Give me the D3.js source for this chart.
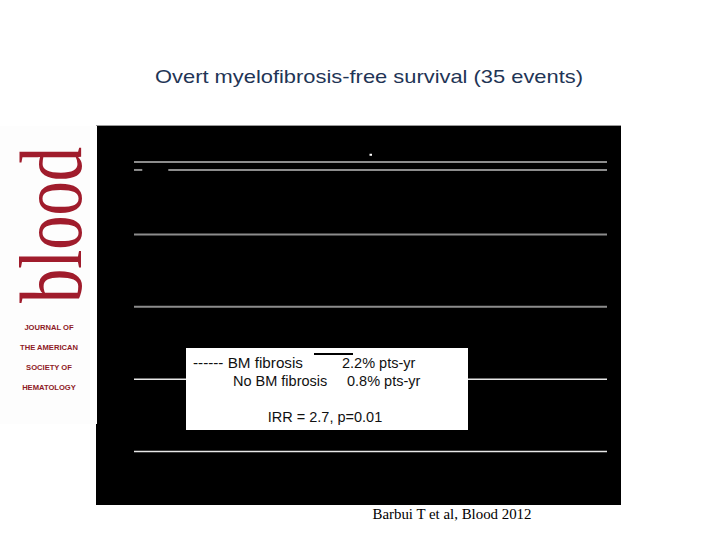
<!DOCTYPE html>
<html>
<head>
<meta charset="utf-8">
<script src="https://cdn.jsdelivr.net/npm/d3@7"></script>
<style>
  html, body { margin: 0; padding: 0; background: #ffffff; }
  svg { display: block; }
</style>
</head>
<body>
<svg id="chart" width="720" height="540"></svg>
<script>
// ---- data ----
const titleText = "Overt myelofibrosis-free survival (35 events)";
const citationText = "Barbui T et al, Blood 2012";
const gridValues = [0.2, 0.4, 0.6, 0.8, 1.0];          // survival proportion gridlines
const xDomain = [0, 20];                                 // follow-up years
const curveLevel = 0.978;                                // flat step seen just under 1.0
const curveSegStart = [0, 1.45];
const curveSegEnd = [0.35, 20];
const censorX = [10];                                    // lone visible mark above the curves
const censorY = [1.02];
const legendLabels = ["------ BM fibrosis", "No BM fibrosis"];
const legendRates = ["2.2% pts-yr", "0.8% pts-yr"];
const statText = "IRR = 2.7, p=0.01";
const logoWord = "blood";
const logoLines = ["JOURNAL OF", "THE AMERICAN", "SOCIETY OF", "HEMATOLOGY"];

const svg = d3.select("#chart");

// title
svg.append("text")
  .attr("x", 155).attr("y", 83)
  .attr("font-family", "'Liberation Sans', Arial, sans-serif")
  .attr("font-size", 18.5)
  .attr("textLength", 428).attr("lengthAdjust", "spacingAndGlyphs")
  .attr("fill", "#1f3556")
  .text(titleText);

// black plot panel
svg.append("rect").attr("x", 96).attr("y", 126).attr("width", 525).attr("height", 379).attr("fill", "#000");
svg.append("line").attr("x1", 96).attr("x2", 621).attr("y1", 125.5).attr("y2", 125.5)
  .attr("stroke", "#9a9a9a").attr("stroke-width", 1);

// scales
const x = d3.scaleLinear().domain(xDomain).range([134, 607]);
const y = d3.scaleLinear().domain([0, 1]).range([524, 162]);

// gridlines
svg.append("g").selectAll("line").data(gridValues).join("line")
  .attr("x1", x(xDomain[0])).attr("x2", x(xDomain[1]))
  .attr("y1", d => y(d)).attr("y2", d => y(d))
  .attr("stroke", d => d >= 0.6 ? "#8c8c8c" : "#e8e8e8")
  .attr("stroke-width", d => d >= 0.6 ? 2 : 1.5);

// step curve segments
svg.append("g").selectAll("line").data(d3.range(curveSegStart.length)).join("line")
  .attr("x1", i => x(curveSegStart[i])).attr("x2", i => x(curveSegEnd[i]))
  .attr("y1", y(curveLevel)).attr("y2", y(curveLevel))
  .attr("stroke", "#8c8c8c").attr("stroke-width", 2);

// censor mark
svg.append("g").selectAll("rect").data(d3.range(censorX.length)).join("rect")
  .attr("x", i => x(censorX[i]) - 1).attr("y", i => y(censorY[i]) - 1)
  .attr("width", 2.5).attr("height", 2).attr("fill", "#fff");

// legend box
const lg = svg.append("g");
lg.append("rect").attr("x", 186).attr("y", 348).attr("width", 282).attr("height", 82).attr("fill", "#fff");
lg.append("line").attr("x1", 314).attr("x2", 353).attr("y1", 354).attr("y2", 354)
  .attr("stroke", "#000").attr("stroke-width", 2);
const lf = "'Liberation Sans', Arial, sans-serif";
lg.append("text").attr("x", 193).attr("y", 368).attr("font-family", lf).attr("font-size", 14.5)
  .attr("textLength", 110).attr("lengthAdjust", "spacingAndGlyphs")
  .attr("fill", "#111").text(legendLabels[0]);
lg.append("text").attr("x", 342).attr("y", 368).attr("font-family", lf).attr("font-size", 14.5)
  .attr("fill", "#111").text(legendRates[0]);
lg.append("text").attr("x", 233).attr("y", 386).attr("font-family", lf).attr("font-size", 14.5)
  .attr("fill", "#111").text(legendLabels[1]);
lg.append("text").attr("x", 347).attr("y", 386).attr("font-family", lf).attr("font-size", 14.5)
  .attr("fill", "#111").text(legendRates[1]);
lg.append("text").attr("x", 325).attr("y", 422).attr("text-anchor", "middle").attr("font-family", lf)
  .attr("font-size", 14.5).attr("fill", "#111").text(statText);

// journal logo
const logo = svg.append("g");
logo.append("rect").attr("x", 0).attr("y", 126).attr("width", 97).attr("height", 298).attr("fill", "#fdfdfd");
logo.append("text")
  .attr("transform", "translate(81,303) rotate(-90)")
  .attr("font-family", "'Liberation Serif', 'Times New Roman', serif")
  .attr("font-size", 88)
  .attr("textLength", 156).attr("lengthAdjust", "spacingAndGlyphs")
  .attr("fill", "#a01c2c")
  .text(logoWord);
logo.selectAll("text.sub").data(logoLines).join("text").attr("class", "sub")
  .attr("x", 49).attr("y", (d, i) => 329.5 + i * 20.3)
  .attr("text-anchor", "middle")
  .attr("font-family", "'Liberation Sans', Arial, sans-serif")
  .attr("font-weight", "bold").attr("font-size", 7.6)
  .attr("fill", "#8e1a26")
  .text(d => d);

// citation
svg.append("text")
  .attr("x", 452).attr("y", 519)
  .attr("text-anchor", "middle")
  .attr("font-family", "'Liberation Serif', 'Times New Roman', serif")
  .attr("font-size", 14.5)
  .attr("textLength", 159).attr("lengthAdjust", "spacingAndGlyphs")
  .attr("fill", "#000")
  .text(citationText);
</script>
</body>
</html>
